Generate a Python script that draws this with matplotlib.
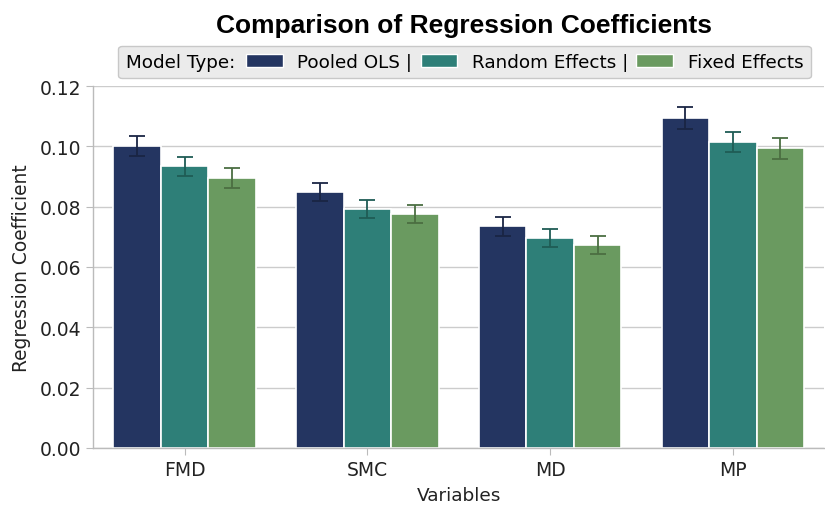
import numpy as np
import matplotlib
matplotlib.use('Agg')
import matplotlib.pyplot as plt
from matplotlib.patches import Patch
from matplotlib.offsetbox import HPacker

variables = ['FMD', 'SMC', 'MD', 'MP']
models = ['Pooled OLS', 'Random Effects', 'Fixed Effects']
pooled_ols = [0.1002, 0.0849, 0.0735, 0.1094]
random_effects = [0.0934, 0.0792, 0.0697, 0.1014]
fixed_effects = [0.0895, 0.0777, 0.0672, 0.0993]
pooled_err = [0.0033, 0.0030, 0.0031, 0.0035]
random_err = [0.0032, 0.0030, 0.0030, 0.0033]
fixed_err = [0.0032, 0.0030, 0.0030, 0.0034]

colors = ['#243561', '#2e7f78', '#6a9a60']
err_colors = ['#1a2544', '#1f5c55', '#4b6e42']

plt.rcParams['font.family'] = 'DejaVu Sans'
fig = plt.figure(figsize=(8.25, 5.06), dpi=100)
ax = fig.add_axes([0.113, 0.113, 0.886, 0.715])

x = np.arange(len(variables))
width = 0.26
series = [(pooled_ols, pooled_err), (random_effects, random_err), (fixed_effects, fixed_err)]
for i, (vals, errs) in enumerate(series):
    pos = x + (i - 1) * width
    ax.bar(pos, vals, width, color=colors[i], edgecolor='white', linewidth=1.2,
           label=models[i], zorder=2)
    ax.errorbar(pos, vals, yerr=errs, fmt='none', ecolor=err_colors[i],
                elinewidth=1.3, capsize=5.5, capthick=1.3, zorder=3)

ax.set_xlim(-0.5, 3.5)
ax.set_ylim(0, 0.12)
ax.set_yticks(np.arange(0, 0.121, 0.02))
ax.set_yticklabels([f'{v:.2f}' for v in np.arange(0, 0.121, 0.02)])
ax.set_xticks(x)
ax.set_xticklabels(variables)
ax.tick_params(labelsize=13.5, colors='#222222', length=5, width=0.8)
ax.tick_params(axis='both', color='#bbbbbb')
ax.grid(axis='y', color='#cccccc', linewidth=1.0, zorder=0)
ax.set_axisbelow(True)
for s in ['top', 'right']:
    ax.spines[s].set_visible(False)
for s in ['left', 'bottom']:
    ax.spines[s].set_color('#bbbbbb')
    ax.spines[s].set_linewidth(1.0)

ax.set_xlabel('Variables', fontsize=13.3, color='#222222', labelpad=5)
ax.set_ylabel('Regression Coefficient', fontsize=13.4, color='#222222', labelpad=6)

fig.text(0.5624, 0.948, 'Comparison of Regression Coefficients', ha='center', va='center',
         fontsize=19, fontweight='bold', family='Liberation Sans')

handles = [Patch(facecolor=c, edgecolor='white') for c in colors]
labels = ['Pooled OLS |', 'Random Effects |', 'Fixed Effects']
leg = ax.legend(handles, labels, title='Model Type:', ncol=3, loc='center',
                bbox_to_anchor=(0.508, 1.066), fontsize=13.2, title_fontsize=13.2,
                frameon=True, facecolor='#ebebeb', edgecolor='#c8c8c8', framealpha=1,
                handlelength=2.0, handletextpad=0.8, columnspacing=0.45,
                borderpad=0.4, fancybox=True)
# put the legend title inline, left of the entries
fs = leg._fontsize
leg._legend_box = HPacker(pad=leg.borderpad * fs, sep=0.6 * fs, align='center',
                          children=[leg._legend_title_box, leg._legend_handle_box])
leg._legend_box.set_figure(fig)
leg._legend_box.axes = ax
leg._legend_box.set_offset(leg._findoffset)

fig.savefig('out.png', dpi=100)
